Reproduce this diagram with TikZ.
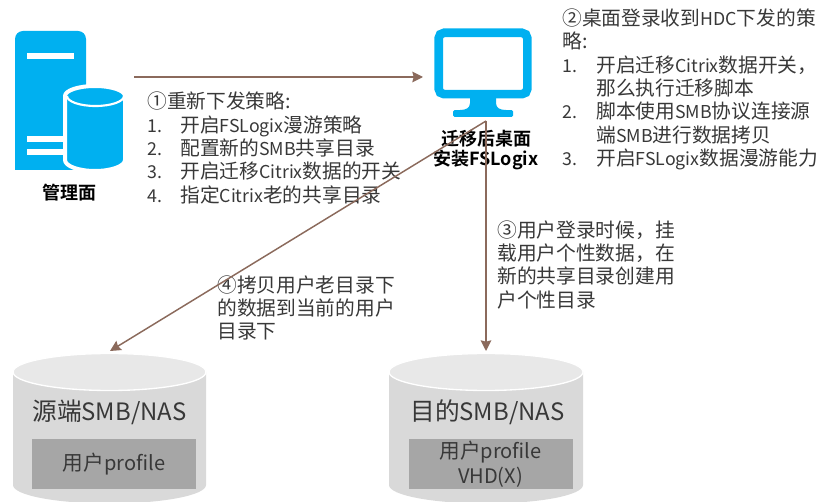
\documentclass[tikz,border=0pt]{standalone}
\usepackage{fontspec}
\setmainfont{Noto Sans CJK SC}[BoldFont=* Bold]
\newfontfamily\lat{Noto Sans CJK SC}[Scale=0.9]
\newfontfamily\latnas{Noto Sans CJK SC}[Scale=0.97]
\usetikzlibrary{shapes.geometric, arrows.meta}
\definecolor{iconblue}{HTML}{00B0F0}
\definecolor{arrowbrown}{HTML}{8B6A5C}
\tikzstyle{txt} = [anchor=west, inner sep=0pt, text height=11pt, text depth=3pt, font=\fontsize{14.8}{17}\selectfont, text=black!78]
\tikzstyle{lbl} = [inner sep=0pt, font=\fontsize{13.5}{15}\selectfont\bfseries, text=black]
\tikzstyle{bar} = [fill=white, draw=none, rectangle, inner sep=0pt, minimum width=35.25pt, minimum height=4.5pt]
\tikzstyle{nasbody} = [fill=black!15, draw=none]
\tikzstyle{nastop} = [fill=black!9, draw=white, line width=1pt]
\tikzstyle{nasbox} = [rectangle, fill=black!35, minimum width=123pt, minimum height=37.5pt, inner sep=0pt, align=center, text=black!78, font=\fontsize{15.5}{18.75}\selectfont]
\tikzstyle{nastxt} = [inner sep=0pt, text=black!78, font=\fontsize{18.5}{20}\selectfont]
\tikzstyle{arrow} = [line width=1.1pt, draw=arrowbrown, -{Stealth[length=8pt,width=8pt,inset=1pt]}]
\begin{document}
\begin{tikzpicture}[x=0.75pt,y=-0.75pt]
        \useasboundingbox (0,0) rectangle (825,502);
        \clip (0,0) rectangle (825,502);

        % management server
        \fill [iconblue] (15,170) -- (15,39) [rounded corners=6pt] -- (15,31) -- (86,31) [sharp corners] -- (86,170) -- cycle;
        \node (bar1) [bar] at (50.5,56) {};
        \node (bar2) [bar] at (50.5,139) {};
        \node (bar3) [bar] at (50.5,152.5) {};
        \filldraw [fill=iconblue, draw=white, line width=3pt] (65,96) -- (65,160) arc[start angle=180, end angle=0, x radius=30, y radius=11] -- (125,96) arc[start angle=0, end angle=-180, x radius=30, y radius=10] -- cycle;
        \draw [white, line width=1.6pt] (67,96) arc[start angle=180, end angle=0, x radius=28.5, y radius=10];
        \node (mgmtlbl) [lbl] at (69,193) {管理面};

        % desktop
        \fill [iconblue] (470,98) -- (470,103) .. controls (470,108) and (466,110) .. (460,110) -- (506,110) .. controls (500,110) and (496,108) .. (496,103) -- (496,98) -- cycle;
        \node (base) [rectangle, rounded corners=1pt, fill=iconblue, minimum width=45pt, minimum height=5pt, inner sep=0pt] at (483,113.5) {};
        \node (desk) [rectangle, rounded corners=4pt, draw=iconblue, fill=white, line width=6.5pt, minimum width=66.5pt, minimum height=46pt, inner sep=0pt] at (483,63.5) {};
        \node (desklbl1) [lbl] at (486,139) {迁移后桌面};
        \node (desklbl2) [lbl] at (486,160) {安装FSLogix};

        % storage
        \fill [nasbody] (13,372) -- (13,485) arc[start angle=180, end angle=0, x radius=96.5, y radius=18.5] -- (206,372) -- cycle;
        \filldraw [nastop] (109.5,372) ellipse [x radius=96.5, y radius=18.5];
        \fill [nasbody] (389,372) -- (389,485) arc[start angle=180, end angle=0, x radius=97, y radius=18.5] -- (583,372) -- cycle;
        \filldraw [nastop] (486,372) ellipse [x radius=97, y radius=18.5];
        \node (srclbl) [nastxt] at (109.5,412) {源端{\latnas SMB/NAS}};
        \node (dstlbl) [nastxt] at (487.5,412) {目的{\latnas SMB/NAS}};
        \node (srcbox) [nasbox] at (114,464) {用户{\latnas profile}};
        \node (dstbox) [nasbox] at (490.5,464) {用户{\latnas profile}\\{\latnas VHD(X)}};

        % step 1
        \node (a0) [txt] at (147,103) {①重新下发策略:};
        \node (a1) [txt] at (147,127) {\lat 1.};
        \node (a1t) [txt] at (180,127) {开启{\lat FSLogix}漫游策略};
        \node (a2) [txt] at (147,150) {\lat 2.};
        \node (a2t) [txt] at (180,150) {配置新的{\lat SMB}共享目录};
        \node (a3) [txt] at (147,173) {\lat 3.};
        \node (a3t) [txt] at (180,173) {开启迁移{\lat Citrix}数据的开关};
        \node (a4) [txt] at (147,197) {\lat 4.};
        \node (a4t) [txt] at (180,197) {指定{\lat Citrix}老的共享目录};

        % step 2
        \node (b0) [txt] at (562,20) {②桌面登录收到{\lat HDC}下发的策};
        \node (b0t) [txt] at (562,43) {略:};
        \node (b1) [txt] at (562,67) {\lat 1.};
        \node (b1t) [txt] at (596,67) {开启迁移{\lat Citrix}数据开关，};
        \node (b1u) [txt] at (596,90) {那么执行迁移脚本};
        \node (b2) [txt] at (562,113) {\lat 2.};
        \node (b2t) [txt] at (596,113) {脚本使用{\lat SMB}协议连接源};
        \node (b2u) [txt] at (596,137) {端{\lat SMB}进行数据拷贝};
        \node (b3) [txt] at (562,160) {\lat 3.};
        \node (b3t) [txt] at (596,160) {开启{\lat FSLogix}数据漫游能力};

        % step 3
        \node (c0) [txt] at (497,232) {③用户登录时候，挂};
        \node (c1) [txt] at (497,255) {载用户个性数据，在};
        \node (c2) [txt] at (497,278) {新的共享目录创建用};
        \node (c3) [txt] at (497,302) {户个性目录};

        % step 4
        \node (d0) [txt] at (217,287) {④拷贝用户老目录下};
        \node (d1) [txt] at (217,310) {的数据到当前的用户};
        \node (d2) [txt] at (217,333) {目录下};

        \coordinate (mgmtout) at (134,77);
        \coordinate (deskin) at (423,77);
        \coordinate (deskout) at (486,121);
        \coordinate (srcin) at (110,351);
        \coordinate (dstin) at (486,351);
        \draw [arrow] (mgmtout) -- (deskin);
        \draw [arrow] (deskout) -- (srcin);
        \draw [arrow] (deskout) -- (dstin);
\end{tikzpicture}
\end{document}
